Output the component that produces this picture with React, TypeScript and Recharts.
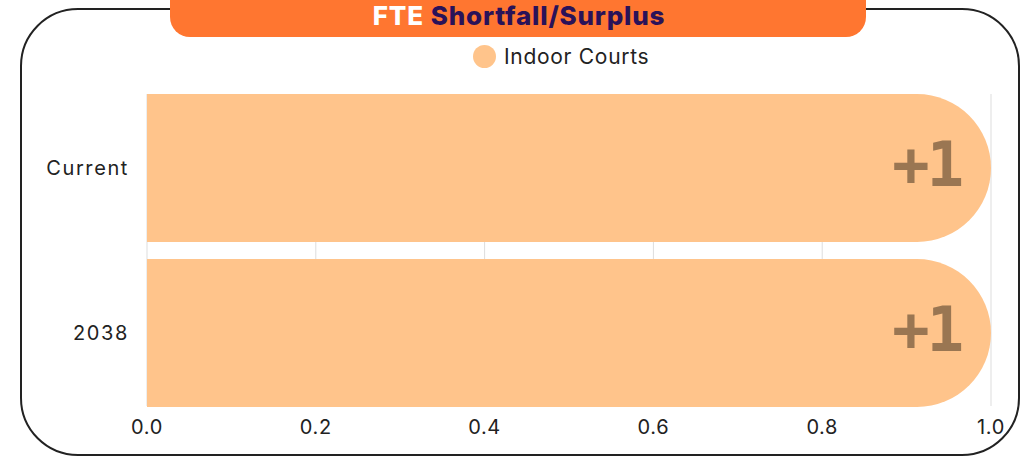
import React from 'react';
import { BarChart, Bar, XAxis, YAxis, CartesianGrid, Legend, LabelList } from 'recharts';

const categories = ['Current', '2038'];
const values = [1, 1];
const valueLabels = ['+1', '+1'];
const xTicks = [0, 0.2, 0.4, 0.6, 0.8, 1.0];
const seriesName = 'Indoor Courts';

const data = categories.map((c, i) => ({ name: c, value: values[i], label: valueLabels[i] }));

const BAR_COLOR = '#FFC48B';
const FONT = 'Inter, "Open Sans", sans-serif';

const renderLegend = () => (
  <div style={{ display: 'flex', justifyContent: 'flex-start', alignItems: 'center', fontFamily: FONT, fontSize: 21, letterSpacing: 0.7, color: '#222', whiteSpace: 'nowrap' }}>
    <span style={{ display: 'inline-block', width: 23, height: 23, borderRadius: '50%', background: BAR_COLOR, marginRight: 8 }} />
    <span>{seriesName}</span>
  </div>
);

const renderValueLabel = (props: any) => {
  const { x, y, width, height, value } = props;
  return (
    <text
      x={x + width - 30}
      y={y + height / 2 - 4}
      textAnchor="end"
      dominantBaseline="central"
      fill="#9A7652"
      fontFamily='"DejaVu Sans Mono", monospace'
      fontWeight="bold"
      fontSize={62}
      letterSpacing={-3}
    >
      {value}
    </text>
  );
};

export default function App() {
  return (
    <div style={{ position: 'absolute', left: 0, top: 0, width: 1025, height: 456, overflow: 'hidden', background: '#fff' }}>
      <div
        style={{
          position: 'absolute', left: 20, top: 8, width: 1000, height: 448, boxSizing: 'border-box',
          border: '2px solid #222', borderRadius: 58,
        }}
      />
      <BarChart
        width={1025}
        height={456}
        data={data}
        layout="vertical"
        margin={{ top: 85.5, right: 34, bottom: 10.5, left: 0 }}
        barCategoryGap={8.5}
        style={{ position: 'absolute', left: 0, top: 0 }}
      >
        <CartesianGrid horizontal={false} stroke="#dddddd" y={94} height={312} />
        <XAxis
          type="number"
          domain={[0, 1]}
          ticks={xTicks}
          tickFormatter={(v: number) => v.toFixed(1)}
          axisLine={false}
          tickLine={false}
          height={30}
          tick={{ fill: '#222', fontSize: 20, fontFamily: FONT, letterSpacing: 0.6 }}
          tickMargin={-2}
        />
        <YAxis
          type="category"
          dataKey="name"
          width={147}
          axisLine={false}
          tickLine={false}
          tickMargin={12}
          tick={{ fill: '#222', fontSize: 20, fontFamily: FONT, letterSpacing: 1.6 }}
        />
        <Legend
          layout="horizontal"
          verticalAlign="middle"
          align="center"
          content={renderLegend}
          wrapperStyle={{ top: 44, left: 473, width: 240 }}
        />
        <Bar dataKey="value" name={seriesName} fill={BAR_COLOR} radius={[0, 74, 74, 0]} isAnimationActive={false}>
          <LabelList dataKey="label" content={renderValueLabel} />
        </Bar>
      </BarChart>
      <div
        style={{
          position: 'absolute', left: 170, top: -20, width: 696, height: 57, background: '#FF7630', borderRadius: 20,
          display: 'flex', justifyContent: 'center', alignItems: 'flex-end', boxSizing: 'border-box', paddingBottom: 6, paddingLeft: 2,
          fontFamily: FONT, fontWeight: 800, fontSize: 26, lineHeight: '30px', letterSpacing: 0.8,
        }}
      >
        <span style={{ color: '#fff' }}>FTE</span>
        <span style={{ color: '#2A1259', marginLeft: 7 }}>Shortfall/Surplus</span>
      </div>
    </div>
  );
}
